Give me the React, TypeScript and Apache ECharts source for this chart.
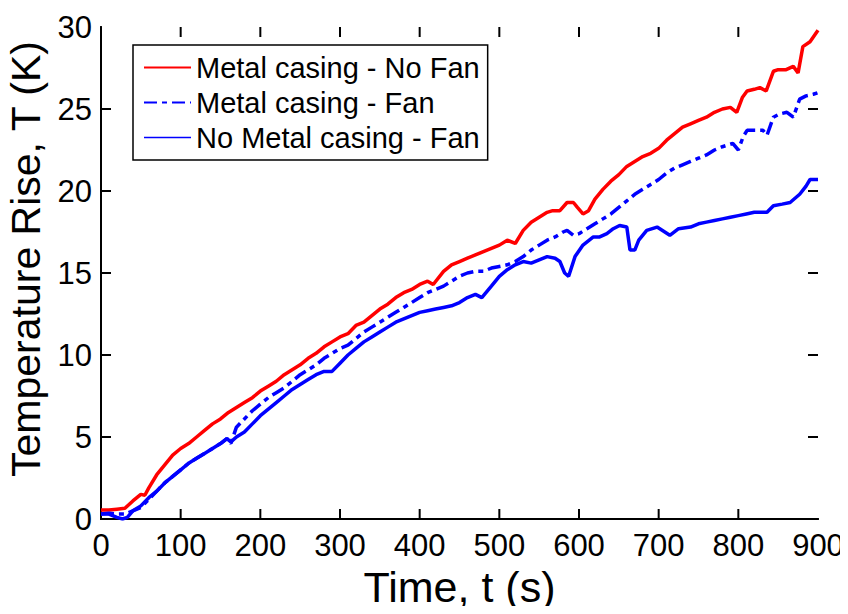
import React, { useEffect, useRef } from "react";
import * as echarts from "echarts";

// Metal casing - No Fan
const timeNoFan = [0, 10, 20, 30, 40, 50, 55, 60, 70, 80, 90, 100, 110, 120, 130, 140, 150, 160, 170, 180, 190, 200, 210, 220, 230, 240, 250, 260, 270, 280, 290, 300, 310, 320, 330, 340, 350, 360, 370, 380, 390, 400, 410, 417, 430, 440, 450, 460, 470, 480, 490, 500, 510, 520, 530, 540, 550, 560, 567, 576, 585, 593, 598, 605, 612, 620, 630, 640, 650, 660, 670, 680, 690, 700, 710, 720, 730, 740, 750, 760, 770, 780, 790, 798, 805, 811, 820, 827, 835, 844, 850, 860, 869, 875, 881, 890, 900];
const tempNoFan = [0.55, 0.55, 0.6, 0.65, 1.1, 1.5, 1.45, 1.9, 2.7, 3.3, 3.9, 4.3, 4.6, 5.0, 5.4, 5.8, 6.1, 6.5, 6.8, 7.1, 7.4, 7.8, 8.1, 8.4, 8.8, 9.1, 9.4, 9.8, 10.1, 10.5, 10.8, 11.1, 11.3, 11.8, 12.0, 12.4, 12.8, 13.1, 13.5, 13.8, 14.0, 14.3, 14.5, 14.3, 15.1, 15.5, 15.7, 15.9, 16.1, 16.3, 16.5, 16.7, 17.0, 16.8, 17.6, 18.1, 18.4, 18.7, 18.8, 18.8, 19.3, 19.3, 19.0, 18.6, 18.8, 19.5, 20.1, 20.6, 21.0, 21.5, 21.8, 22.1, 22.3, 22.6, 23.1, 23.5, 23.9, 24.1, 24.3, 24.5, 24.8, 25.0, 25.1, 24.8, 25.7, 26.1, 26.2, 26.3, 26.1, 27.3, 27.4, 27.4, 27.6, 27.2, 28.8, 29.1, 29.8];

// Metal casing - Fan
const timeFan = [0, 10, 20, 30, 40, 50, 60, 70, 80, 90, 100, 110, 120, 130, 140, 150, 158, 163, 170, 180, 190, 200, 210, 220, 230, 240, 250, 260, 270, 280, 290, 300, 310, 320, 330, 340, 350, 360, 370, 380, 390, 400, 410, 420, 430, 440, 450, 460, 470, 480, 490, 500, 510, 520, 530, 540, 550, 560, 570, 580, 585, 593, 600, 610, 620, 630, 640, 650, 660, 670, 680, 690, 700, 710, 720, 730, 740, 750, 760, 770, 780, 793, 800, 806, 811, 820, 831, 836, 844, 852, 861, 869, 877, 885, 894, 900];
const tempFan = [0.3, 0.35, 0.3, 0.3, 0.5, 0.7, 1.2, 1.7, 2.2, 2.6, 3.0, 3.4, 3.7, 4.0, 4.3, 4.6, 4.9, 4.6, 5.6, 6.1, 6.6, 7.0, 7.4, 7.7, 8.0, 8.4, 8.8, 9.1, 9.4, 9.8, 10.1, 10.4, 10.6, 11.0, 11.4, 11.7, 12.0, 12.3, 12.6, 12.9, 13.2, 13.5, 13.8, 14.0, 14.2, 14.5, 14.8, 15.0, 15.1, 15.1, 15.3, 15.4, 15.5, 15.7, 16.0, 16.4, 16.7, 17.0, 17.2, 17.5, 17.6, 17.3, 17.4, 17.7, 18.0, 18.3, 18.6, 19.0, 19.4, 19.8, 20.1, 20.4, 20.7, 21.1, 21.4, 21.6, 21.8, 22.0, 22.2, 22.5, 22.7, 22.9, 22.5, 23.3, 23.7, 23.7, 23.7, 23.4, 24.5, 24.7, 24.8, 24.5, 25.6, 25.8, 25.9, 26.0];

// No Metal casing - Fan
const timeNoCasing = [0, 10, 20, 27, 33, 40, 50, 60, 70, 80, 90, 100, 110, 120, 130, 140, 150, 158, 163, 170, 180, 190, 200, 210, 220, 230, 240, 250, 260, 270, 280, 290, 300, 310, 320, 330, 340, 350, 360, 370, 380, 390, 400, 410, 420, 430, 440, 450, 460, 470, 478, 490, 500, 510, 520, 530, 540, 550, 560, 570, 576, 582, 587, 595, 605, 618, 626, 635, 643, 651, 660, 664, 670, 675, 685, 698, 714, 725, 740, 750, 760, 770, 780, 790, 800, 810, 820, 836, 844, 855, 865, 877, 885, 890, 900];
const tempNoCasing = [0.3, 0.3, 0.1, 0.0, 0.1, 0.5, 0.8, 1.3, 1.7, 2.2, 2.6, 3.0, 3.4, 3.7, 4.0, 4.3, 4.6, 4.9, 4.7, 5.0, 5.3, 5.8, 6.3, 6.7, 7.1, 7.5, 7.9, 8.2, 8.5, 8.8, 9.0, 9.0, 9.5, 10.0, 10.4, 10.8, 11.1, 11.4, 11.7, 12.0, 12.2, 12.4, 12.6, 12.7, 12.8, 12.9, 13.0, 13.2, 13.5, 13.7, 13.5, 14.2, 14.8, 15.2, 15.5, 15.7, 15.6, 15.8, 16.0, 15.9, 15.7, 15.0, 14.8, 16.0, 16.7, 17.2, 17.2, 17.4, 17.7, 17.9, 17.8, 16.4, 16.4, 17.0, 17.6, 17.8, 17.3, 17.7, 17.8, 18.0, 18.1, 18.2, 18.3, 18.4, 18.5, 18.6, 18.7, 18.7, 19.1, 19.2, 19.3, 19.8, 20.3, 20.7, 20.7];

// Positions of the inward tick marks on the frame
const xTickValues = [100, 200, 300, 400, 500, 600, 700, 800];
const yTickValues = [5, 10, 15, 20, 25];

const X_MIN = 0, X_MAX = 900, X_STEP = 100;
const Y_MIN = 0, Y_MAX = 30, Y_STEP = 5;

const FONT = "'Liberation Sans', Arial, sans-serif";

// grid box in pixels
const GRID = { left: 101, right: 30, top: 27, bottom: 95 };
const CHART_W = 848, CHART_H = 614;
const TICK_PX = 10;
// tick length expressed in each axis' data units
const xTickLen = (TICK_PX * (X_MAX - X_MIN)) / (CHART_W - GRID.left - GRID.right);
const yTickLen = (TICK_PX * (Y_MAX - Y_MIN)) / (CHART_H - GRID.top - GRID.bottom);

const pairs = (xs: number[], ys: number[]) => xs.map((x, i) => [x, ys[i]]);

const frameLine = () => ({ show: true, lineStyle: { color: "#000", width: 2 } });

// each tick is a tiny two-point line drawn through the axes' own scales
const tickSeries = (a: number[], b: number[]) => ({
  type: "line",
  data: [a, b],
  symbol: "none",
  showSymbol: false,
  silent: true,
  clip: false,
  z: 4,
  color: "#000",
  lineStyle: { color: "#000", width: 2 },
  tooltip: { show: false },
});

const ticks = [
  ...xTickValues.map((v) => tickSeries([v, Y_MIN], [v, Y_MIN + yTickLen])),
  ...xTickValues.map((v) => tickSeries([v, Y_MAX], [v, Y_MAX - yTickLen])),
  ...yTickValues.map((v) => tickSeries([X_MIN, v], [X_MIN + xTickLen, v])),
  ...yTickValues.map((v) => tickSeries([X_MAX, v], [X_MAX - xTickLen, v])),
];

export default function App() {
  const ref = useRef<HTMLDivElement>(null);

  useEffect(() => {
    if (!ref.current) return;
    const chart = echarts.init(ref.current, null, { renderer: "svg" });

    chart.setOption({
      animation: false,
      grid: { ...GRID, outerBoundsMode: "none" },
      legend: {
        orient: "vertical",
        left: 133,
        top: 45,
        padding: [8, 8, 8, 10],
        itemGap: 6,
        itemWidth: 47,
        itemHeight: 14,
        borderColor: "#000",
        borderWidth: 1.5,
        itemStyle: { opacity: 0 },
        textStyle: { fontFamily: FONT, fontSize: 29, color: "#000" },
        data: [
          { name: "Metal casing - No Fan" },
          { name: "Metal casing - Fan" },
          { name: "No Metal casing - Fan", lineStyle: { width: 1.5 } },
        ],
      },
      xAxis: [
        {
          type: "value",
          min: X_MIN,
          max: X_MAX,
          interval: X_STEP,
          position: "bottom",
          axisLine: frameLine(),
          axisTick: { show: false },
          splitLine: { show: false },
          axisLabel: { fontFamily: FONT, fontSize: 31, color: "#000", margin: 11 },
          name: "Time, t (s)",
          nameLocation: "middle",
          nameGap: 44,
          nameTextStyle: { fontFamily: FONT, fontSize: 43, color: "#000" },
        },
        {
          type: "value",
          min: X_MIN,
          max: X_MAX,
          interval: X_STEP,
          position: "top",
          axisLine: frameLine(),
          axisTick: { show: false },
          splitLine: { show: false },
          axisLabel: { show: false },
        },
      ],
      yAxis: [
        {
          type: "value",
          min: Y_MIN,
          max: Y_MAX,
          interval: Y_STEP,
          position: "left",
          axisLine: frameLine(),
          axisTick: { show: false },
          splitLine: { show: false },
          axisLabel: { fontFamily: FONT, fontSize: 31, color: "#000", margin: 9 },
          name: "Temperature Rise, T (K)",
          nameLocation: "middle",
          nameGap: 50,
          nameTextStyle: { fontFamily: FONT, fontSize: 41, color: "#000", padding: [0, 0, 0, 28] },
        },
        {
          type: "value",
          min: Y_MIN,
          max: Y_MAX,
          interval: Y_STEP,
          position: "right",
          axisLine: frameLine(),
          axisTick: { show: false },
          splitLine: { show: false },
          axisLabel: { show: false },
        },
      ],
      series: [
        {
          name: "Metal casing - No Fan",
          type: "line",
          data: pairs(timeNoFan, tempNoFan),
          showSymbol: false,
          symbol: "none",
          color: "#ff0000",
          lineStyle: { color: "#ff0000", width: 3.5 },
        },
        {
          name: "Metal casing - Fan",
          type: "line",
          data: pairs(timeFan, tempFan),
          showSymbol: false,
          symbol: "none",
          color: "#0000ff",
          lineStyle: { color: "#0000ff", width: 3.5, type: [13, 5, 5, 5] },
        },
        {
          name: "No Metal casing - Fan",
          type: "line",
          data: pairs(timeNoCasing, tempNoCasing),
          showSymbol: false,
          symbol: "none",
          color: "#0000ff",
          lineStyle: { color: "#0000ff", width: 3.5 },
        },
        ...ticks,
      ],
    });

    return () => chart.dispose();
  }, []);

  return <div ref={ref} style={{ width: CHART_W, height: CHART_H, margin: -8 }} />;
}
